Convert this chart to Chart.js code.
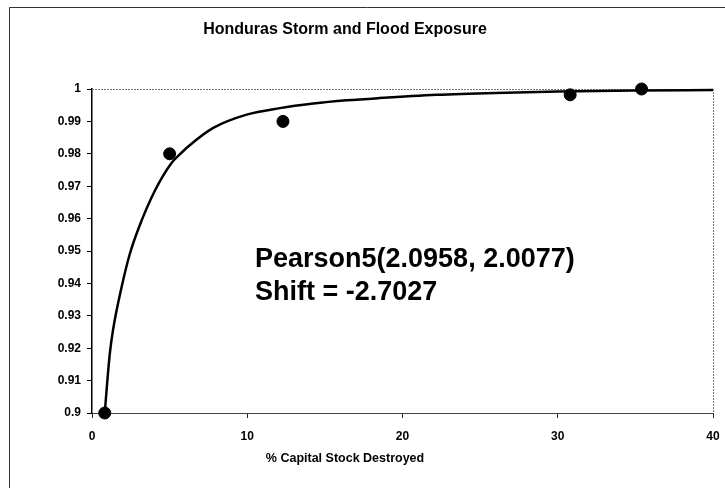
<!DOCTYPE html>
<html>
<head>
<meta charset="utf-8">
<title>Honduras Storm and Flood Exposure</title>
<script src="https://cdn.jsdelivr.net/npm/chart.js@4/dist/chart.umd.min.js"></script>
<style>
  body { margin: 0; background: #fff; }
  canvas { display: block; }
</style>
</head>
<body>
<canvas id="myChart" width="725" height="488"></canvas>
<script>
// observed points (% capital stock destroyed, cumulative probability)
var pointX = [0.82, 5.0, 12.3, 30.8, 35.4];
var pointY = [0.9, 0.98, 0.99, 0.9982, 1.0];

// fitted curve
var curveX = [0.82, 1.14, 1.35, 1.89, 2.43, 2.96, 4.04, 5.11, 5.67, 6.18, 7.81, 9.96, 12.1, 14.25, 16.4, 18.5, 22.2, 26, 30, 35, 40];
var curveY = [0.9, 0.918, 0.9255, 0.9385, 0.949, 0.9565, 0.9685, 0.9771, 0.9799, 0.9822, 0.988, 0.9921, 0.9941, 0.9955, 0.9965, 0.9972, 0.9982, 0.9988, 0.9992, 0.9995, 0.9997];

var xTicks = [0, 10, 20, 30, 40];
var chartTitle = 'Honduras Storm and Flood Exposure';
var xTitle = '% Capital Stock Destroyed';
var fitLabel = ['Pearson5(2.0958, 2.0077)', 'Shift = -2.7027'];

var FONT = 'Arial, "Liberation Sans", sans-serif';

function toPoints(xs, ys) {
	var pts = [];
	for (var i = 0; i < xs.length; i++) {
		pts.push({ x: xs[i], y: ys[i] });
	}
	return pts;
}

// frame, plot border, titles and the fit label
var decorations = {
	id: 'decorations',
	beforeDatasetsDraw: function (chart) {
		var ctx = chart.ctx;
		var a = chart.chartArea;
		ctx.save();
		ctx.strokeStyle = '#777';
		ctx.lineWidth = 1;
		ctx.setLineDash([2, 1]);
		ctx.beginPath();
		ctx.moveTo(a.left, a.top + 0.5);
		ctx.lineTo(a.right + 0.5, a.top + 0.5);
		ctx.lineTo(a.right + 0.5, a.bottom);
		ctx.stroke();
		ctx.restore();
	},
	afterDraw: function (chart) {
		var ctx = chart.ctx;
		ctx.save();
		// outer frame (left and top edges only show in the scan)
		ctx.strokeStyle = '#333';
		ctx.lineWidth = 1;
		ctx.beginPath();
		ctx.moveTo(9.5, 488);
		ctx.lineTo(9.5, 7.5);
		ctx.lineTo(725, 7.5);
		ctx.stroke();

		ctx.fillStyle = '#000';
		ctx.textAlign = 'center';
		ctx.textBaseline = 'middle';
		ctx.font = 'bold 16px ' + FONT;
		ctx.fillText(chartTitle, 345, 30);
		ctx.font = 'bold 12.5px ' + FONT;
		ctx.fillText(xTitle, 345, 459);

		ctx.textAlign = 'left';
		ctx.textBaseline = 'alphabetic';
		ctx.font = 'bold 27px ' + FONT;
		ctx.fillText(fitLabel[0], 255, 267);
		ctx.fillText(fitLabel[1], 255, 300);
		ctx.restore();
	}
};

var chart = new Chart(document.getElementById('myChart').getContext('2d'), {
	type: 'scatter',
	data: {
		datasets: [
			{
				label: 'Observed',
				data: toPoints(pointX, pointY),
				backgroundColor: '#000',
				borderColor: '#000',
				pointRadius: 6,
				pointHoverRadius: 6,
				clip: false
			},
			{
				label: 'Pearson5 fit',
				data: toPoints(curveX, curveY),
				showLine: true,
				borderColor: '#000',
				borderWidth: 2.5,
				pointRadius: 0,
				cubicInterpolationMode: 'monotone',
				fill: false,
				clip: 2
			}
		]
	},
	options: {
		responsive: false,
		animation: false,
		events: [],
		layout: { padding: { top: 89, right: 12, left: 0, bottom: 0 } },
		plugins: {
			legend: { display: false },
			title: { display: false },
			tooltip: { enabled: false }
		},
		scales: {
			x: {
				type: 'linear',
				min: 0,
				max: 40,
				afterFit: function (s) {
					s.height = 75;
					s.paddingRight = 0;
					s.paddingLeft = 0;
				},
				afterBuildTicks: function (s) {
					s.ticks = xTicks.map(function (v) { return { value: v }; });
				},
				grid: { drawOnChartArea: false, tickLength: 5, color: '#222' },
				border: { color: '#444', width: 1 },
				ticks: {
					padding: 11,
					color: '#000',
					maxRotation: 0,
					font: { family: FONT, size: 12, weight: 'bold' }
				}
			},
			y: {
				type: 'linear',
				min: 0.9,
				max: 1,
				afterFit: function (s) { s.width = 92; },
				grid: { drawOnChartArea: false, tickLength: 5, color: '#000' },
				border: { color: '#000', width: 1.5 },
				ticks: {
					stepSize: 0.01,
					padding: 6,
					color: '#000',
					font: { family: FONT, size: 12, weight: 'bold' },
					callback: function (v) { return String(Number(v.toFixed(2))); }
				}
			}
		}
	},
	plugins: [decorations]
});
</script>
</body>
</html>
